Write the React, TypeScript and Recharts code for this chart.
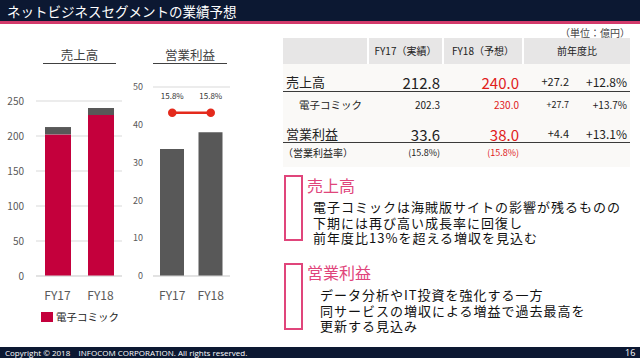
import React from 'react';
import { BarChart, Bar, ComposedChart, Line, XAxis, YAxis, CartesianGrid, LabelList } from 'recharts';

const fiscalYears = ['FY17', 'FY18'];
const comicSales = [202.3, 230.0];
const otherSales = [10.5, 10.0];
const operatingProfit = [33.6, 38.0];
const profitMargin = [15.8, 15.8];
const salesTicks = [0, 50, 100, 150, 200, 250];
const profitTicks = [0, 10, 20, 30, 40, 50];

const tableHeaders = ['FY17（実績）', 'FY18（予想）', '前年度比'];
const rowLabels = ['売上高', '電子コミック', '営業利益', '（営業利益率）'];
const fy17Values = ['212.8', '202.3', '33.6', '(15.8%)'];
const fy18Values = ['240.0', '230.0', '38.0', '(15.8%)'];
const diffValues = ['+27.2', '+27.7', '+4.4', ''];
const diffRates = ['+12.8%', '+13.7%', '+13.1%', ''];

const salesNotes = ['電子コミックは海賊版サイトの影響が残るものの', '下期には再び高い成長率に回復し', '前年度比13%を超える増収を見込む'];
const profitNotes = ['データ分析やIT投資を強化する一方', '同サービスの増収による増益で過去最高を', '更新する見込み'];

const JP = '"Noto Sans CJK JP", "Noto Sans", sans-serif';
const RED = '#c4003c';
const GRAY = '#585858';
const PINK = '#e0457b';
const NUM_RED = '#e0201b';

const salesData = fiscalYears.map((fy, i) => ({ fy, comic: comicSales[i], other: otherSales[i] }));
const profitData = fiscalYears.map((fy, i) => ({ fy, profit: operatingProfit[i], margin: profitMargin[i] }));

const abs = (s: React.CSSProperties): React.CSSProperties => ({ position: 'absolute', ...s });

// row layout for the table: center y, label x, font sizes
const rowY = [82, 105, 134, 153];
const rowLabelX = [286, 299, 286, 283];
const labelSize = [13, 10.5, 13, 10];
const valueSize = [15, 10, 15, 9];
const diffSize = [11, 9, 11, 10];
const rateSize = [12, 10, 12, 10];

const Cell = ({ text, right, y, size, color = '#222' }: any) => (
    <div style={abs({ right: 640 - right, top: y - size * 0.7, fontSize: size, lineHeight: `${size * 1.4}px`, color, whiteSpace: 'nowrap' })}>{text}</div>
);

const NoteLines = ({ lines }: { lines: string[] }) => (
    <>{lines.map((t, i) => <React.Fragment key={t}>{i > 0 && <br />}{t}</React.Fragment>)}</>
);

const noteStyle: React.CSSProperties = { fontSize: 13, letterSpacing: 1, lineHeight: '15.5px', color: '#111', whiteSpace: 'nowrap' };

export default function App() {
    return (
        <div style={abs({ left: 0, top: 0, width: 640, height: 358, background: '#fff', fontFamily: JP, overflow: 'hidden' })}>
            {/* title bar */}
            <div style={abs({ left: 0, top: 0, width: 640, height: 21, background: '#0c1832' })} />
            <div style={abs({ left: 0, top: 21, width: 640, height: 3, background: '#d23a6b' })} />
            <div style={abs({ left: 7, top: 1, fontSize: 13.5, lineHeight: '20px', color: '#fff', whiteSpace: 'nowrap' })}>ネットビジネスセグメントの業績予想</div>

            {/* chart titles */}
            <div style={abs({ left: 43, top: 46, width: 73, textAlign: 'center', fontSize: 12.5, lineHeight: '17px', color: '#404040' })}>売上高</div>
            <div style={abs({ left: 43, top: 63, width: 73, height: 1, background: '#404040' })} />
            <div style={abs({ left: 153, top: 46, width: 74, textAlign: 'center', fontSize: 12.5, lineHeight: '17px', color: '#404040' })}>営業利益</div>
            <div style={abs({ left: 153, top: 63, width: 74, height: 1, background: '#404040' })} />

            {/* sales chart */}
            <div style={abs({ left: 0, top: 85, fontFamily: JP })}>
                <BarChart width={130} height={225} data={salesData} margin={{ top: 16, right: 8, left: 0, bottom: 0 }} barSize={26}>
                    <CartesianGrid vertical={false} stroke="#d9d9d9" />
                    <XAxis dataKey="fy" height={34} axisLine={{ stroke: '#d9d9d9' }} tickLine={false} tickMargin={9} tick={{ fontSize: 12, fill: '#595959' }} />
                    <YAxis width={36} domain={[0, 250]} ticks={salesTicks} axisLine={false} tickLine={false} tickMargin={6} tick={{ fontSize: 10, fill: '#595959' }} />
                    <Bar dataKey="comic" stackId="s" fill={RED} isAnimationActive={false} />
                    <Bar dataKey="other" stackId="s" fill={GRAY} isAnimationActive={false} />
                </BarChart>
            </div>
            <div style={abs({ left: 41, top: 312, width: 12, height: 10, background: RED })} />
            <div style={abs({ left: 56, top: 309, fontSize: 10.5, lineHeight: '16px', color: '#222', whiteSpace: 'nowrap' })}>電子コミック</div>

            {/* profit chart */}
            <div style={abs({ left: 120, top: 71, fontFamily: JP })}>
                <ComposedChart width={118} height={239} data={profitData} margin={{ top: 16, right: 8, left: 0, bottom: 0 }} barSize={24}>
                    <CartesianGrid vertical={false} stroke="#d9d9d9" />
                    <XAxis dataKey="fy" height={34} axisLine={{ stroke: '#d9d9d9' }} tickLine={false} tickMargin={9} tick={{ fontSize: 12, fill: '#595959' }} />
                    <YAxis yAxisId="l" width={33} domain={[0, 50]} ticks={profitTicks} axisLine={false} tickLine={false} tickMargin={4} tick={{ fontSize: 9, fill: '#595959' }} />
                    <YAxis yAxisId="r" orientation="right" width={0} hide domain={[0, 18.3]} />
                    <Bar yAxisId="l" dataKey="profit" fill={GRAY} isAnimationActive={false} />
                    <Line yAxisId="r" dataKey="margin" stroke="#e42a1c" strokeWidth={2.5} dot={{ r: 3, fill: '#e42a1c', stroke: '#e42a1c' }} isAnimationActive={false}>
                        <LabelList dataKey="margin" position="top" offset={14} formatter={(v: any) => `${v}%`} style={{ fontSize: 8, fill: '#333' }} />
                    </Line>
                </ComposedChart>
            </div>

            {/* table */}
            <div style={abs({ right: 10, top: 26, fontSize: 10, lineHeight: '14px', color: '#444' })}>（単位：億円）</div>
            <div style={abs({ left: 283, top: 38, width: 347, height: 26, background: '#e7e6e6' })} />
            {[367, 442, 522].map(x => <div key={x} style={abs({ left: x, top: 38, width: 2, height: 26, background: '#fff' })} />)}
            {tableHeaders.map((h, i) => {
                const c = [[369, 442], [444, 522], [524, 630]][i];
                return <div key={h} style={abs({ left: c[0], top: 44, width: c[1] - c[0], textAlign: 'center', fontSize: 10, lineHeight: '14px', color: '#222', whiteSpace: 'nowrap' })}>{h}</div>;
            })}
            <div style={abs({ left: 283, top: 64, width: 347, height: 103, background: '#faf9f7' })} />
            <div style={abs({ left: 283, top: 91, width: 347, height: 1, background: '#3a3a3a' })} />
            <div style={abs({ left: 283, top: 142, width: 347, height: 1, background: '#3a3a3a' })} />
            {rowLabels.map((label, i) => (
                <React.Fragment key={label}>
                    <div style={abs({ left: rowLabelX[i], top: rowY[i] - labelSize[i] * 0.7, fontSize: labelSize[i], lineHeight: `${labelSize[i] * 1.4}px`, color: '#222', whiteSpace: 'nowrap' })}>{label}</div>
                    <Cell text={fy17Values[i]} right={440} y={rowY[i]} size={valueSize[i]} />
                    <Cell text={fy18Values[i]} right={519} y={rowY[i]} size={valueSize[i]} color={NUM_RED} />
                    <Cell text={diffValues[i]} right={569} y={rowY[i]} size={diffSize[i]} />
                    <Cell text={diffRates[i]} right={627} y={rowY[i]} size={rateSize[i]} />
                </React.Fragment>
            ))}

            {/* notes */}
            <div style={abs({ left: 284, top: 175, width: 15, height: 62, border: `2px solid ${PINK}` })} />
            <div style={abs({ left: 307, top: 175, fontSize: 16, lineHeight: '20px', color: PINK })}>売上高</div>
            <div style={abs({ left: 313, top: 199, ...noteStyle })}>
                <NoteLines lines={salesNotes} />
            </div>
            <div style={abs({ left: 284, top: 263, width: 15, height: 63, border: `2px solid ${PINK}` })} />
            <div style={abs({ left: 307, top: 262, fontSize: 16, lineHeight: '20px', color: PINK })}>営業利益</div>
            <div style={abs({ left: 320, top: 287, ...noteStyle })}>
                <NoteLines lines={profitNotes} />
            </div>

            {/* footer */}
            <div style={abs({ left: 0, top: 347, width: 640, height: 11, background: '#0c1832' })} />
            <div style={abs({ left: 5, top: 347, fontSize: 8, lineHeight: '11px', color: '#fff', whiteSpace: 'pre', fontFamily: '"Open Sans", sans-serif' })}>{'Copyright © 2018    INFOCOM CORPORATION. All rights reserved.'}</div>
            <div style={abs({ left: 625, top: 347, fontSize: 9, lineHeight: '11px', color: '#fff', fontFamily: '"Open Sans", sans-serif' })}>16</div>
        </div>
    );
}
